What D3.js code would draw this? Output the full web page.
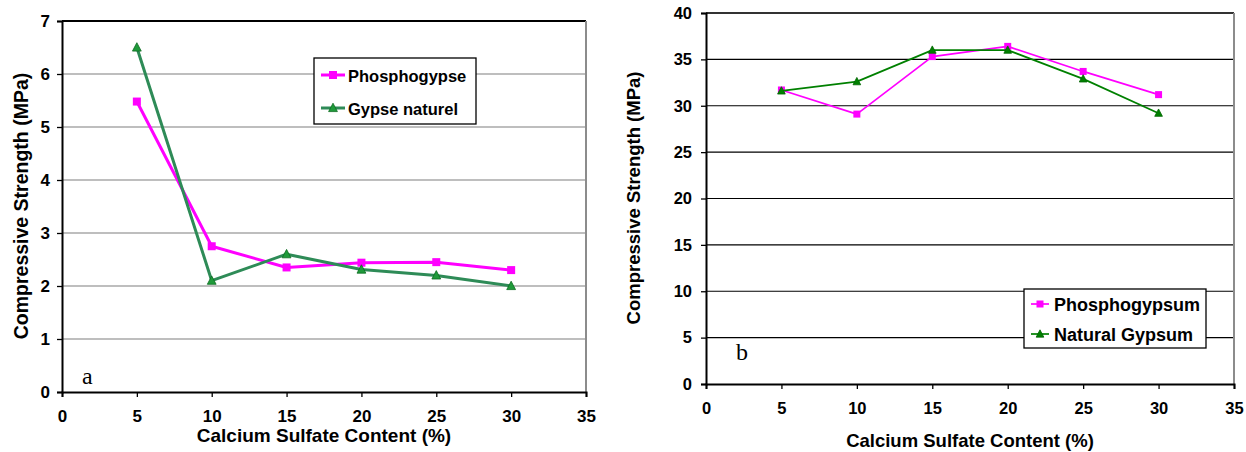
<!DOCTYPE html>
<html>
<head>
<meta charset="utf-8">
<script src="https://cdn.jsdelivr.net/npm/d3@7"></script>
<style>
  html, body { margin: 0; padding: 0; background: #fff; }
  svg { display: block; font-family: "Liberation Sans", Arial, sans-serif; }
  .ttl { font-weight: bold; fill: #000; }
  .leg { font-weight: bold; fill: #000; }
</style>
</head>
<body>
<svg id="chart" width="1246" height="452"></svg>
<script>
// calcium sulfate content (%)
var contentA = [5, 10, 15, 20, 25, 30];
var phosphogypse = [5.48, 2.75, 2.35, 2.44, 2.45, 2.30];
var gypseNaturel = [6.50, 2.10, 2.60, 2.31, 2.20, 2.00];

var contentB = [5, 10, 15, 20, 25, 30];
var phosphogypsum = [31.7, 29.1, 35.3, 36.4, 33.7, 31.2];
var naturalGypsum = [31.6, 32.6, 36.0, 36.0, 32.9, 29.2];

var xTicks = [0, 5, 10, 15, 20, 25, 30, 35];
var yTicksA = [0, 1, 2, 3, 4, 5, 6, 7];
var yTicksB = [0, 5, 10, 15, 20, 25, 30, 35, 40];

var svg = d3.select('#chart');

function drawPanel(cfg) {
  var g = svg.append('g');
  var x = d3.scaleLinear().domain([0, 35]).range([cfg.left, cfg.right]);
  var y = d3.scaleLinear().domain([0, cfg.yMax]).range([cfg.bottom, cfg.top]);

  // grid
  g.append('g').selectAll('line').data(cfg.yTicks.filter(function (v) { return v > 0 && v < cfg.yMax; }))
    .enter().append('line')
    .attr('x1', cfg.left).attr('x2', cfg.right)
    .attr('y1', function (v) { return y(v); }).attr('y2', function (v) { return y(v); })
    .attr('stroke', cfg.gridColor).attr('stroke-width', 1.2);

  // frame: top and right
  g.append('line').attr('x1', cfg.left).attr('x2', cfg.right).attr('y1', cfg.top).attr('y2', cfg.top)
    .attr('stroke', cfg.topColor).attr('stroke-width', 2);
  g.append('line').attr('x1', cfg.right).attr('x2', cfg.right).attr('y1', cfg.top).attr('y2', cfg.bottom)
    .attr('stroke', '#8c8c8c').attr('stroke-width', 2);

  var fmt = d3.format('d');
  var xAxis = d3.axisBottom(x).tickValues(xTicks).tickFormat(fmt).tickSize(5).tickPadding(cfg.xPad);
  var yAxis = d3.axisLeft(y).tickValues(cfg.yTicks).tickFormat(fmt).tickSize(5).tickPadding(cfg.yPad);
  var gx = g.append('g').attr('transform', 'translate(0,' + cfg.bottom + ')').call(xAxis);
  var gy = g.append('g').attr('transform', 'translate(' + cfg.left + ',0)').call(yAxis);
  [gx, gy].forEach(function (a) {
    a.attr('font-size', cfg.tickSize).attr('font-family', '"Liberation Sans", Arial, sans-serif')
      .attr('font-weight', 'bold');
    a.select('.domain').attr('stroke', '#000').attr('stroke-width', 2);
    a.selectAll('.tick line').attr('stroke', '#000').attr('stroke-width', 1.3);
    a.selectAll('.tick text').attr('fill', '#000').attr('font-size', cfg.tickSize);
  });

  // axis titles
  g.append('text').attr('class', 'ttl')
    .attr('x', (cfg.left + cfg.right) / 2).attr('y', cfg.xTitleY)
    .attr('text-anchor', 'middle').attr('font-size', cfg.titleSize)
    .text('Calcium Sulfate Content (%)');
  g.append('text').attr('class', 'ttl')
    .attr('transform', 'translate(' + cfg.yTitleX + ',' + cfg.yTitleMid + ') rotate(-90)')
    .attr('text-anchor', 'middle').attr('font-size', cfg.yTitleSize)
    .text('Compressive Strength (MPa)');

  // panel letter
  g.append('text').attr('x', cfg.letterX).attr('y', cfg.letterY)
    .attr('font-family', '"Liberation Serif", "Times New Roman", serif').attr('font-size', 24)
    .text(cfg.letter);

  var line = d3.line().x(function (d) { return x(d[0]); }).y(function (d) { return y(d[1]); });

  cfg.series.forEach(function (s) {
    var pts = cfg.xs.map(function (v, i) { return [v, s.values[i]]; });
    g.append('path').datum(pts).attr('d', line)
      .attr('fill', 'none').attr('stroke', s.color).attr('stroke-width', cfg.lineWidth)
      .attr('stroke-linejoin', 'round');
    drawMarkers(g, pts.map(function (p) { return [x(p[0]), y(p[1])]; }), s, cfg.markerSize);
  });

  // legend
  var L = cfg.legend;
  g.append('rect').attr('x', L.x).attr('y', L.y).attr('width', L.w).attr('height', L.h)
    .attr('fill', '#fff').attr('stroke', '#000').attr('stroke-width', 1.3);
  cfg.series.forEach(function (s, i) {
    var ly = L.rowY[i];
    g.append('line').attr('x1', L.lx1).attr('x2', L.lx2).attr('y1', ly).attr('y2', ly)
      .attr('stroke', s.color).attr('stroke-width', cfg.lineWidth);
    drawMarkers(g, [[(L.lx1 + L.lx2) / 2, ly]], s, cfg.markerSize);
    g.append('text').attr('class', 'leg').attr('x', L.tx).attr('y', ly + L.dy)
      .attr('font-size', L.size).text(s.name);
  });
}

function drawMarkers(g, pts, s, size) {
  if (s.shape === 'square') {
    g.append('g').selectAll('rect').data(pts).enter().append('rect')
      .attr('x', function (p) { return p[0] - size / 2; })
      .attr('y', function (p) { return p[1] - size / 2; })
      .attr('width', size).attr('height', size)
      .attr('fill', s.markerFill);
  } else {
    var h = size;
    g.append('g').selectAll('path').data(pts).enter().append('path')
      .attr('d', function (p) {
        return 'M' + p[0] + ',' + (p[1] - h * 0.6) +
          'L' + (p[0] + h * 0.55) + ',' + (p[1] + h * 0.45) +
          'L' + (p[0] - h * 0.55) + ',' + (p[1] + h * 0.45) + 'Z';
      })
      .attr('fill', s.markerFill).attr('stroke', s.markerStroke).attr('stroke-width', 0.8);
  }
}

drawPanel({
  left: 62, right: 586, top: 21, bottom: 392, yMax: 7, yTicks: yTicksA,
  gridColor: '#7f7f7f', topColor: '#000', tickSize: 17, xPad: 13, yPad: 7,
  titleSize: 19, yTitleSize: 19.5, xTitleY: 442, yTitleX: 28, yTitleMid: 206,
  letter: 'a', letterX: 82, letterY: 384,
  xs: contentA, lineWidth: 3, markerSize: 8,
  series: [
    { name: 'Phosphogypse', values: phosphogypse, color: '#ff00ff', shape: 'square', markerFill: '#ff00ff' },
    { name: 'Gypse naturel', values: gypseNaturel, color: '#2e8b57', shape: 'triangle', markerFill: '#1f9a3a', markerStroke: '#0b6b1f' }
  ],
  legend: { x: 314, y: 58, w: 162, h: 66, rowY: [75, 108], lx1: 321, lx2: 345, tx: 348, dy: 6.5, size: 16.5 }
});

drawPanel({
  left: 706, right: 1234, top: 13, bottom: 384, yMax: 40, yTicks: yTicksB,
  gridColor: '#000', topColor: '#333', tickSize: 16.5, xPad: 13, yPad: 9,
  titleSize: 18.5, yTitleSize: 18.5, xTitleY: 447, yTitleX: 640, yTitleMid: 198,
  letter: 'b', letterX: 736, letterY: 360,
  xs: contentB, lineWidth: 1.7, markerSize: 7,
  series: [
    { name: 'Phosphogypsum', values: phosphogypsum, color: '#ff00ff', shape: 'square', markerFill: '#ff00ff' },
    { name: 'Natural Gypsum', values: naturalGypsum, color: '#008000', shape: 'triangle', markerFill: '#008000', markerStroke: '#006400' }
  ],
  legend: { x: 1024, y: 289, w: 182, h: 59, rowY: [304, 334], lx1: 1031, lx2: 1049, tx: 1054, dy: 7, size: 18 }
});
</script>
</body>
</html>
